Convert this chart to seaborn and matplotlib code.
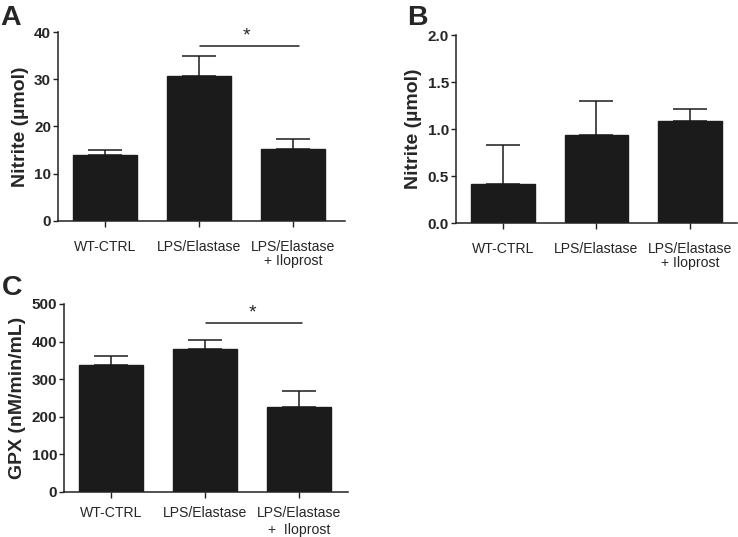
import pandas as pd
import seaborn as sns
import matplotlib.pyplot as plt

# data (mean and top of error bar)
groups = ["WT-CTRL", "LPS/Elastase", "LPS/Elastase\n+ Iloprost"]
groups_c = ["WT-CTRL", "LPS/Elastase", "LPS/Elastase\n+  Iloprost"]

nitrite_a = [13.9, 30.6, 15.2]
nitrite_a_top = [15.0, 34.9, 17.4]

nitrite_b = [0.42, 0.94, 1.08]
nitrite_b_top = [0.83, 1.30, 1.21]

gpx_c = [337, 380, 226]
gpx_c_top = [363, 404, 268]

sns.set_style("ticks")
plt.rcParams['font.family'] = ['Liberation Sans', 'DejaVu Sans']

fig = plt.figure(figsize=(7.38, 5.37), dpi=100)
axA = fig.add_axes([0.0786, 0.5885, 0.389, 0.3519])
axB = fig.add_axes([0.6179, 0.5847, 0.3807, 0.3501])
axC = fig.add_axes([0.0867, 0.0838, 0.3848, 0.3501])

barcol = "#1b1b1b"


def draw(ax, labels, vals, tops, ymax, yticks, ylabel, xright, xpad, lsp):
    df = pd.DataFrame({"group": labels, "value": vals})
    sns.barplot(data=df, x="group", y="value", color=barcol, width=0.68,
                errorbar=None, saturation=1, edgecolor=barcol, ax=ax)
    up = [t - v for t, v in zip(tops, vals)]
    ax.errorbar(range(len(vals)), vals, yerr=[[0] * len(vals), up], fmt="none",
                ecolor="#1b1b1b", elinewidth=1.1, capsize=12.5, capthick=1.1, zorder=1)
    ax.set_ylim(0, ymax)
    ax.set_xlim(-0.5, xright)
    ax.set_yticks(yticks)
    ax.set_xlabel("")
    ax.set_ylabel(ylabel, fontsize=14, fontweight="bold", labelpad=4)
    for lbl in ax.get_yticklabels():
        lbl.set_fontweight("bold")
    for lbl in ax.get_xticklabels():
        lbl.set_linespacing(lsp)
    ax.tick_params(axis="y", labelsize=11, length=3.5, width=1, pad=1.5, color="#222222")
    ax.tick_params(axis="x", labelsize=10.1, length=4, width=1, pad=xpad, color="#222222")
    sns.despine(ax=ax)
    for s in ["left", "bottom"]:
        ax.spines[s].set_linewidth(1.1)
        ax.spines[s].set_color("#222222")


draw(axA, groups, nitrite_a, nitrite_a_top, 40, [0, 10, 20, 30, 40],
     "Nitrite (µmol)", 2.55, 10, 1.0)
draw(axB, groups, nitrite_b, nitrite_b_top, 2.0, [0.0, 0.5, 1.0, 1.5, 2.0],
     "Nitrite (µmol)", 2.5, 10, 1.0)
axB.set_yticklabels(["0.0", "0.5", "1.0", "1.5", "2.0"], fontweight="bold")
draw(axC, groups_c, gpx_c, gpx_c_top, 500, [0, 100, 200, 300, 400, 500],
     "GPX (nM/min/mL)", 2.52, 6, 1.25)

# significance bars
axA.plot([1.01, 2.06], [37.0, 37.0], color="#222222", lw=1.1, clip_on=False)
axA.text(1.5, 37.4, "*", ha="center", va="bottom", fontsize=14)
axC.plot([1.01, 2.03], [449, 449], color="#222222", lw=1.1, clip_on=False)
axC.text(1.5, 454, "*", ha="center", va="bottom", fontsize=14)

# panel letters
fig.text(0.0, 0.9534, "A", fontsize=20.5, fontweight="bold", va="baseline")
fig.text(0.552, 0.9534, "B", fontsize=20.5, fontweight="bold", va="baseline")
fig.text(0.002, 0.4507, "C", fontsize=20.5, fontweight="bold", va="baseline")

fig.savefig("out.png", dpi=100)
